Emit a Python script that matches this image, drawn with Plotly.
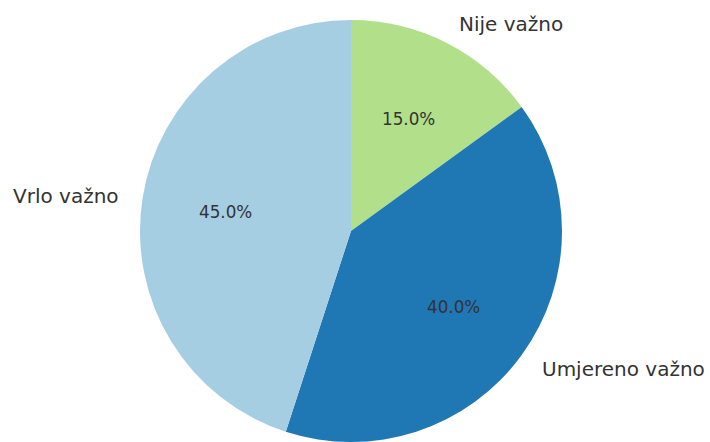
import math
import plotly.graph_objects as go

labels = ["Nije važno", "Umjereno važno", "Vrlo važno"]
values = [15, 40, 45]
colors = ["#b2df8a", "#1f78b4", "#a6cee3"]

W, H = 710, 442
cx_px, r_px = 351, 212
top_px = 20
cy_px = top_px + r_px

fig = go.Figure(go.Pie(
    labels=labels, values=values, sort=False, direction="clockwise", rotation=0,
    marker=dict(colors=colors, line=dict(width=0)),
    textinfo="none", hoverinfo="label+percent", showlegend=False,
    domain=dict(x=[(cx_px - r_px) / W, (cx_px + r_px) / W],
                y=[max(0, (H - cy_px - r_px) / H), (H - cy_px + r_px) / H]),
))

total = sum(values)
cum = 0
annotations = []
for lab, v in zip(labels, values):
    mid = cum + v / 2
    cum += v
    ang = math.radians(90 - 360 * mid / total)
    c, s = math.cos(ang), math.sin(ang)
    lx = cx_px + 1.1 * r_px * c
    ly = cy_px - 1.1 * r_px * s
    annotations.append(dict(
        x=lx / W, y=1 - ly / H, xref="paper", yref="paper", text=lab, showarrow=False,
        xanchor="left" if c > 0 else "right", yanchor="middle",
        font=dict(family="DejaVu Sans", size=20, color="#333333")))
    px = cx_px + 0.6 * r_px * c
    py = cy_px - 0.6 * r_px * s
    annotations.append(dict(
        x=px / W, y=1 - py / H, xref="paper", yref="paper",
        text=f"{100 * v / total:.1f}%", showarrow=False,
        xanchor="center", yanchor="middle",
        font=dict(family="DejaVu Sans", size=16.8, color="#333333")))

fig.update_layout(
    width=W, height=H, margin=dict(l=0, r=0, t=0, b=0),
    paper_bgcolor="white", plot_bgcolor="white",
    annotations=annotations,
)
fig.write_html("out.html", config={"displayModeBar": False},
               post_script="document.body.style.margin='0';document.body.style.overflow='hidden';")
